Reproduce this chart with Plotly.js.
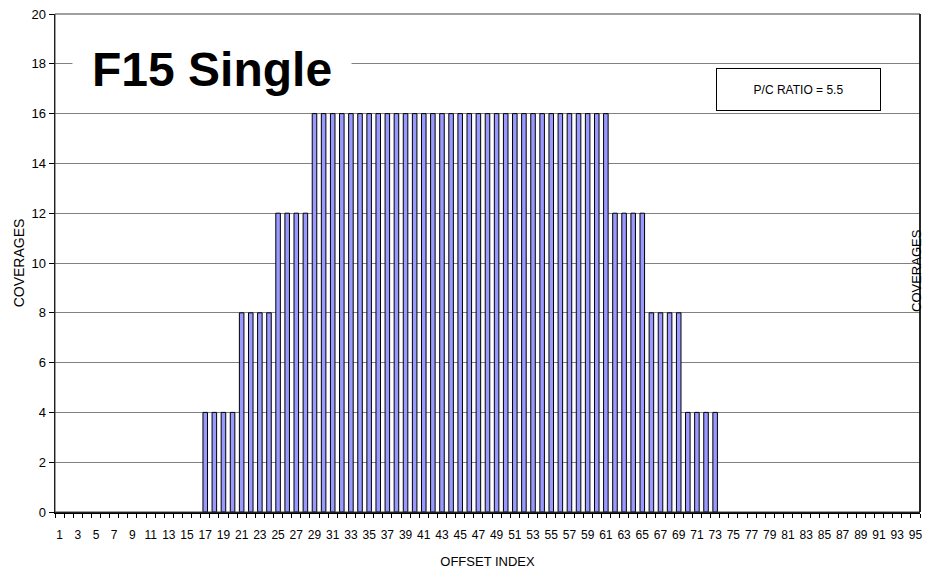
<!DOCTYPE html>
<html>
<head>
<meta charset="utf-8">
<script src="https://cdn.plot.ly/plotly-3.0.1.min.js"></script>
<style>html,body{margin:0;padding:0;background:#fff;}#chart{width:927px;height:569px;}</style>
</head>
<body>
<div id="chart"></div>
<script>
// Offset index categories 1..95
const offsetIndex = [
  1,2,3,4,5,6,7,8,9,10,11,12,13,14,15,16,17,18,19,20,
  21,22,23,24,25,26,27,28,29,30,31,32,33,34,35,36,37,38,39,40,
  41,42,43,44,45,46,47,48,49,50,51,52,53,54,55,56,57,58,59,60,
  61,62,63,64,65,66,67,68,69,70,71,72,73,74,75,76,77,78,79,80,
  81,82,83,84,85,86,87,88,89,90,91,92,93,94,95
];
// Coverage values per offset index
const coverages = [
  0,0,0,0,0,0,0,0,0,0,0,0,0,0,0,0,4,4,4,4,
  8,8,8,8,12,12,12,12,16,16,16,16,16,16,16,16,16,16,16,16,
  16,16,16,16,16,16,16,16,16,16,16,16,16,16,16,16,16,16,16,16,
  16,12,12,12,12,8,8,8,8,4,4,4,4,0,0,0,0,0,0,0,
  0,0,0,0,0,0,0,0,0,0,0,0,0,0,0
];
// Tick labels shown on x axis (odd offsets)
const xTickVals = [1,3,5,7,9,11,13,15,17,19,21,23,25,27,29,31,33,35,37,39,41,43,45,47,49,51,53,55,57,59,61,63,65,67,69,71,73,75,77,79,81,83,85,87,89,91,93,95];
const xTickText = xTickVals.map(String);
const yTickVals = [0,2,4,6,8,10,12,14,16,18,20];

const chartTitle = 'F15 Single';
const ratioText = 'P/C RATIO = 5.5';
const xTitle = 'OFFSET INDEX';
const yTitle = 'COVERAGES';

const FONT = 'Liberation Sans, Arial, sans-serif';

const trace = {
  type: 'bar',
  x: offsetIndex,
  y: coverages,
  width: 0.5,
  marker: {color: '#9999FF', line: {color: '#000000', width: coverages.map(v => v > 0 ? 1 : 0)}},
  hoverinfo: 'x+y'
};

const layout = {
  width: 927, height: 569,
  margin: {l: 55, r: 7, t: 14, b: 57, pad: 0},
  paper_bgcolor: '#ffffff', plot_bgcolor: '#ffffff',
  showlegend: false,
  font: {family: FONT, color: '#000'},
  xaxis: {
    type: 'linear',
    range: [0.5, 95.5],
    tickmode: 'array', tickvals: xTickVals, ticktext: xTickText,
    ticks: '', showgrid: false, zeroline: false,
    showline: true, linecolor: '#000', linewidth: 2,
    tickfont: {size: 12, family: FONT, color: '#000'},
    ticklabelstandoff: 11,
    minor: {tick0: 0.5, dtick: 1, ticks: 'outside', ticklen: 4, tickcolor: '#000', tickwidth: 1, showgrid: false},
    title: {text: xTitle, font: {size: 13, family: FONT}, standoff: 18},
    fixedrange: true
  },
  yaxis: {
    range: [0, 20],
    tickmode: 'array', tickvals: yTickVals,
    ticks: 'outside', ticklen: 5, tickcolor: '#000', tickwidth: 1,
    showgrid: true, gridcolor: '#808080', gridwidth: 1,
    zeroline: false,
    showline: true, linecolor: '#000', linewidth: 1.5,
    tickfont: {size: 13, family: FONT, color: '#000'},
    title: {text: yTitle, font: {size: 14, family: FONT}, standoff: 3},
    fixedrange: true
  },
  shapes: [
    // white backing behind the chart title (hides gridline)
    {type: 'rect', xref: 'paper', yref: 'paper', x0: 0.0202, x1: 0.3428, y0: 0.83, y1: 0.95,
     fillcolor: '#ffffff', line: {width: 0}, layer: 'above'},
    {type: 'rect', xref: 'paper', yref: 'paper', x0: 0, x1: 1, y0: 0, y1: 1,
     line: {color: '#404040', width: 1}, layer: 'above'},
    {type: 'line', xref: 'paper', yref: 'paper', x0: 1, x1: 1, y0: 0, y1: 1,
     line: {color: '#000', width: 1.5}, layer: 'above'}
  ],
  annotations: [
    {text: '<b>' + chartTitle + '</b>', xref: 'paper', yref: 'paper',
     x: 0.1815, y: 0.8876, xanchor: 'center', yanchor: 'middle', showarrow: false,
     font: {size: 48, family: FONT, color: '#000'}},
    {text: ratioText, xref: 'paper', yref: 'paper',
     x: 0.8590, y: 0.8474, xanchor: 'center', yanchor: 'middle', showarrow: false,
     width: 163, height: 41, borderpad: 0, borderwidth: 1, bordercolor: '#000', bgcolor: '#ffffff',
     font: {size: 12, family: FONT, color: '#000'}},
    {text: yTitle, xref: 'paper', yref: 'paper', x: 1, y: 0.484, xshift: -3,
     xanchor: 'center', yanchor: 'middle', textangle: -90, showarrow: false,
     font: {size: 13, family: FONT, color: '#000'}}
  ]
};

Plotly.newPlot('chart', [trace], layout, {displayModeBar: false, staticPlot: true});
</script>
</body>
</html>
